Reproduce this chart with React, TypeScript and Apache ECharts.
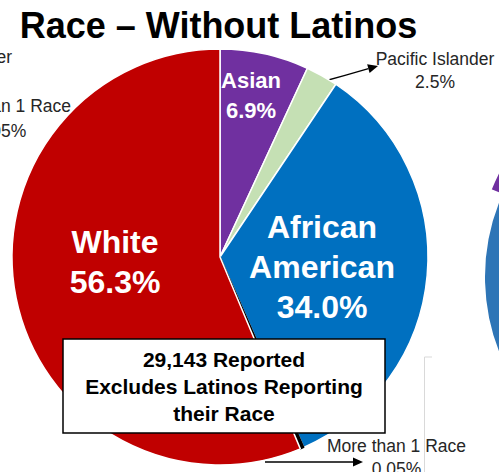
import React, { useEffect, useRef } from "react";
import * as echarts from "echarts";

// ---- data ----
const categories = ["Asian", "Pacific Islander", "African American", "More than 1 Race", "White"];
const labelNames = ["Asian", "Pacific Islander", "African\nAmerican", "More than 1 Race", "White"];
const percents = [6.9, 2.5, 34.0, 0.05, 56.3];
const sliceColors = ["#7030A0", "#C5E0B4", "#0070C0", "#000000", "#C00000"];

// partially visible neighbour pie on the right edge
const neighborCategories = ["Group A", "Group B"];
const neighborValues = [81, 19];
const neighborColors = ["#2E75B6", "#7030A0"];

const titleText = "Race \u2013 Without Latinos";
const noteLines = ["29,143 Reported", "Excludes Latinos Reporting", "their Race"];
// cropped labels of the neighbour chart on the left
const leftCropLabels = ["Other", "More than 1 Race\n0.05%"];

// ---- layout ----
const labelAnchors: number[][] = [
  [251, 95],
  [435, 70],
  [322, 266.5],
  [396.5, 457],
  [115, 261.5],
];
const labelLines: (number[][] | null)[] = [
  null,
  [[321, 82], [345, 75.3], [368.4, 68.7]],
  null,
  [[265, 462], [310, 462], [353, 462]],
  null,
];

const FONT = "'Liberation Sans', Arial, sans-serif";

function fmtPct(v: number): string {
  return (v < 0.1 ? v.toFixed(2) : v.toFixed(1)) + "%";
}

export default function App() {
  const ref = useRef<HTMLDivElement>(null);
  useEffect(() => {
    document.body.style.margin = "0";
    if (!ref.current) return;
    const chart = echarts.init(ref.current, undefined, { renderer: "svg" });

    const insideStyle = (size: number, lh: number) => ({
      show: true,
      position: "inside",
      color: "#ffffff",
      fontWeight: "bold",
      fontFamily: FONT,
      fontSize: size,
      lineHeight: lh,
    });
    const outsideStyle = {
      show: true,
      position: "outside",
      color: "#262626",
      fontWeight: "normal",
      fontFamily: FONT,
      fontSize: 17.5,
      lineHeight: 23,
    };
    const labelStyles: any[] = [
      insideStyle(22, 30),
      outsideStyle,
      insideStyle(32, 40),
      outsideStyle,
      insideStyle(32, 40),
    ];

    const mainData = categories.map((c, i) => ({
      name: c,
      value: percents[i],
      itemStyle: {
        color: sliceColors[i],
        borderColor: i === 3 ? "#000000" : "#ffffff",
        borderWidth: 1.5,
      },
      label: {
        ...labelStyles[i],
        formatter: () => labelNames[i] + "\n" + fmtPct(percents[i]),
      },
      labelLine: {
        show: labelLines[i] !== null,
        lineStyle: { color: "#000000", width: 1.3 },
      },
    }));

    const neighborData = neighborCategories.map((c, i) => ({
      name: c,
      value: neighborValues[i],
      selected: i === 1,
      itemStyle: { color: neighborColors[i], borderColor: "#ffffff", borderWidth: 2 },
    }));

    const arrow = (tip: number[], dir: number[]) => {
      const len = Math.hypot(dir[0], dir[1]);
      const ux = dir[0] / len, uy = dir[1] / len;
      const bx = tip[0] - ux * 10, by = tip[1] - uy * 10;
      const px = -uy * 4.5, py = ux * 4.5;
      return {
        type: "polygon",
        z: 120,
        shape: { points: [tip, [bx + px, by + py], [bx - px, by - py]] },
        style: { fill: "#000000" },
      };
    };

    chart.setOption({
      animation: false,
      backgroundColor: "#ffffff",
      series: [
        {
          type: "pie",
          silent: true,
          center: [689, 277],
          radius: 205,
          selectedMode: "single",
          selectedOffset: 14,
          label: { show: false },
          labelLine: { show: false },
          data: neighborData,
        },
        {
          type: "pie",
          center: [220, 257],
          radius: 208,
          startAngle: 90,
          clockwise: true,
          minAngle: 1,
          avoidLabelOverlap: false,
          data: mainData,
          labelLayout: (p: any) => {
            const a = labelAnchors[p.dataIndex];
            const res: any = { x: a[0], y: a[1], align: "center", verticalAlign: "middle" };
            const lp = labelLines[p.dataIndex];
            if (lp) res.labelLinePoints = lp;
            return res;
          },
        },
      ],
      graphic: [
        {
          type: "text",
          x: 218.5,
          y: 25,
          z: 100,
          style: {
            text: titleText,
            fill: "#000000",
            font: `bold 36px ${FONT}`,
            textAlign: "center",
            textVerticalAlign: "middle",
          },
        },
        {
          type: "rect",
          z: 100,
          shape: { x: 63, y: 339, width: 322, height: 94 },
          style: { fill: "#ffffff", stroke: "#000000", lineWidth: 1.5 },
        },
        {
          type: "text",
          x: 224,
          y: 386,
          z: 101,
          style: {
            text: noteLines.join("\n"),
            fill: "#000000",
            font: `bold 21px ${FONT}`,
            lineHeight: 27,
            textAlign: "center",
            textVerticalAlign: "middle",
          },
        },
        arrow([378, 66], [57, -16]),
        arrow([363, 462], [1, 0]),
        {
          type: "polyline",
          z: 90,
          shape: { points: [[432, 357], [424.5, 357], [424.5, 472]] },
          style: { stroke: "#d9d9d9", lineWidth: 1, fill: null },
        },
        {
          type: "text",
          x: 12,
          y: 57,
          z: 100,
          style: {
            text: leftCropLabels[0],
            fill: "#262626",
            font: `17.5px ${FONT}`,
            textAlign: "right",
            textVerticalAlign: "middle",
          },
        },
        {
          type: "text",
          x: 1.5,
          y: 118,
          z: 100,
          style: {
            text: leftCropLabels[1],
            fill: "#262626",
            font: `17.5px ${FONT}`,
            lineHeight: 25,
            textAlign: "center",
            textVerticalAlign: "middle",
          },
        },
      ],
    });
    return () => chart.dispose();
  }, []);
  return <div ref={ref} style={{ width: 499, height: 472 }} />;
}
